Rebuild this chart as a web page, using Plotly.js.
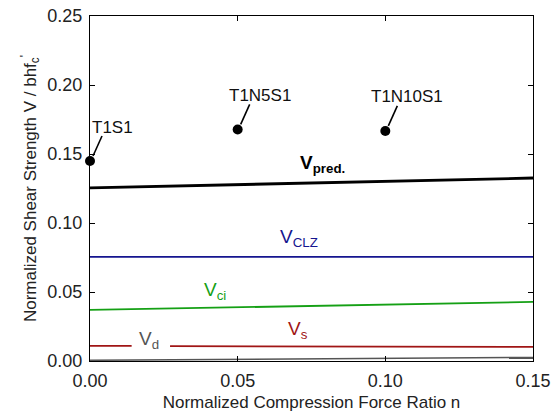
<!DOCTYPE html>
<html><head><meta charset="utf-8">
<script src="https://cdn.plot.ly/plotly-3.0.1.min.js"></script>
<style>body{margin:0}</style>
</head><body><div id="chart" style="width:555px;height:416px"></div>
<script>
const nRange = [0, 0.15];
const vPred = [0.1254, 0.1326];
const vCLZ = [0.0754, 0.0754];
const vCi = [0.0370, 0.0428];
const vSx1 = [0, 0.0141];
const vSy1 = [0.0109, 0.0109];
const vSx2 = [0.0271, 0.15];
const vSy2 = [0.0108, 0.0102];
const vD = [0.0005, 0.0026];
const testN = [0, 0.05, 0.10];
const testV = [0.1449, 0.1678, 0.1667];
const testNames = ['T1S1', 'T1N5S1', 'T1N10S1'];

const F = 'Liberation Sans, Arial, sans-serif';
const W = 555, H = 416;
const ML = 90, MR = 22, MT = 16, MB = 55;
const xR = [0, 0.15], yR = [0, 0.25];
const dxPx = (xR[1] - xR[0]) / (W - ML - MR);
const dyPx = (yR[1] - yR[0]) / (H - MT - MB);

const traces = [
  {x: nRange, y: vD, mode: 'lines', line: {color: '#555555', width: 1.5}},
  {x: vSx1, y: vSy1, mode: 'lines', line: {color: '#a01515', width: 1.8}},
  {x: vSx2, y: vSy2, mode: 'lines', line: {color: '#a01515', width: 1.8}},
  {x: nRange, y: vCi, mode: 'lines', line: {color: '#15a015', width: 1.8}},
  {x: nRange, y: vCLZ, mode: 'lines', line: {color: '#15158f', width: 1.8}},
  {x: nRange, y: vPred, mode: 'lines', line: {color: '#000000', width: 2.8}}
];
// leader lines from each test point toward its label (offsets in pixels)
for (let i = 0; i < testN.length; i++) {
  traces.push({x: [testN[i] + 3 * dxPx, testN[i] + 12 * dxPx],
               y: [testV[i] + 5 * dyPx, testV[i] + 25 * dyPx],
               mode: 'lines', line: {color: '#000000', width: 1.6}});
}
traces.push({x: testN, y: testV, mode: 'markers', marker: {color: '#000', size: 10}, cliponaxis: false});

const annotations = testNames.map((t, i) => ({
  x: testN[i], y: testV[i], text: t, showarrow: false, xshift: 22, yshift: 34,
  font: {family: F, size: 17, color: '#111'}
}));
const labels = [
  {x: 0.0705, y: 0.1425, text: '<b>V<sub>pred.</sub></b>', color: '#000'},
  {x: 0.0635, y: 0.0893, text: 'V<sub>CLZ</sub>', color: '#15158f'},
  {x: 0.0378, y: 0.0507, text: 'V<sub>ci</sub>', color: '#15a015'},
  {x: 0.0662, y: 0.0222, text: 'V<sub>s</sub>', color: '#a01515'},
  {x: 0.0158, y: 0.0155, text: 'V<sub>d</sub>', color: '#555555'}
];
labels.forEach(l => annotations.push({x: l.x, y: l.y, text: l.text, showarrow: false, xanchor: 'left',
  font: {family: F, size: 19, color: l.color}}));

const axisCommon = {showgrid: false, zeroline: false, showline: true, linecolor: '#000', linewidth: 1,
  mirror: 'ticks', ticks: 'inside', ticklen: 5, tickcolor: '#000', ticklabelstandoff: 3,
  tickfont: {family: F, size: 18, color: '#222'}};
const layout = {
  width: W, height: H, margin: {l: ML, r: MR, t: MT, b: MB},
  showlegend: false, paper_bgcolor: '#fff', plot_bgcolor: '#fff',
  xaxis: Object.assign({}, axisCommon, {range: xR.slice(), tickvals: [0, 0.05, 0.10, 0.15],
    ticktext: ['0.00', '0.05', '0.10', '0.15'],
    title: {text: 'Normalized Compression Force Ratio n', font: {family: F, size: 17, color: '#222'}, standoff: 6}}),
  yaxis: Object.assign({}, axisCommon, {range: yR.slice(), tickvals: [0, 0.05, 0.10, 0.15, 0.20, 0.25],
    ticktext: ['0.00', '0.05', '0.10', '0.15', '0.20', '0.25'],
    title: {text: "Normalized Shear Strength V / bhf<sub>c</sub><sup>'</sup>", font: {family: F, size: 17, color: '#222'}, standoff: 6}}),
  annotations: annotations
};
Plotly.newPlot('chart', traces, layout, {displayModeBar: false, staticPlot: true});
</script></body></html>
